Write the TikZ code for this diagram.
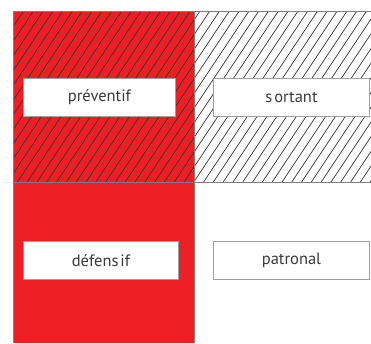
\documentclass[tikz,border=0pt]{standalone}
\usepackage{fontspec}
\setmainfont{PT Sans}
\definecolor{myred}{HTML}{EE1F24}
\definecolor{bordergray}{HTML}{7F7F7F}
\definecolor{labelgray}{HTML}{A0A0A0}
\definecolor{textgray}{HTML}{3A3A3A}
\begin{document}
\begin{tikzpicture}[x=1pt,y=-1pt,
  labelbox/.style={draw=labelgray,line width=0.9pt,fill=white,inner sep=0pt,anchor=north west},
  labeltext/.style={text=textgray,font=\fontsize{16.5}{18}\selectfont,inner sep=0pt},
  hatchline/.style={draw=black!80,line width=0.7pt},
  frame/.style={draw=bordergray,line width=1pt}]
\useasboundingbox (0,0) rectangle (371,343);
% fills
\fill[myred] (13,11) rectangle (194,182);
\fill[myred] (13,182) rectangle (194,343);
% hatching top row
\begin{scope}
\clip (13,11) rectangle (371,182);
\foreach \i in {0,...,50}{
  \draw[hatchline] ({\i*9.8-110},182) -- ({\i*9.8-110+114},11);
}
\end{scope}
% frames
\draw[frame] (371,11) -- (13,11) -- (13,343);
\draw[frame] (194,11) -- (194,343);
\draw[frame] (13,182) -- (371,182);
% labels
\node[labelbox,minimum width=152pt,minimum height=38pt] (prev) at (23,78) {};
\node[labeltext] (prevt) at (prev.center) {préventif};
\node[labelbox,minimum width=156pt,minimum height=38pt] (sort) at (213,78) {};
\node[labeltext] (sortt) at (sort.center) {s\hspace{2pt}ortant};
\node[labelbox,minimum width=155pt,minimum height=38pt] (def) at (23,241) {};
\node[labeltext] (deft) at (def.center) {défens\hspace{2pt}if};
\node[labelbox,minimum width=156pt,minimum height=38pt] (pat) at (213,241) {};
\node[labeltext] (patt) at (pat.center) {patronal};
\end{tikzpicture}
\end{document}
